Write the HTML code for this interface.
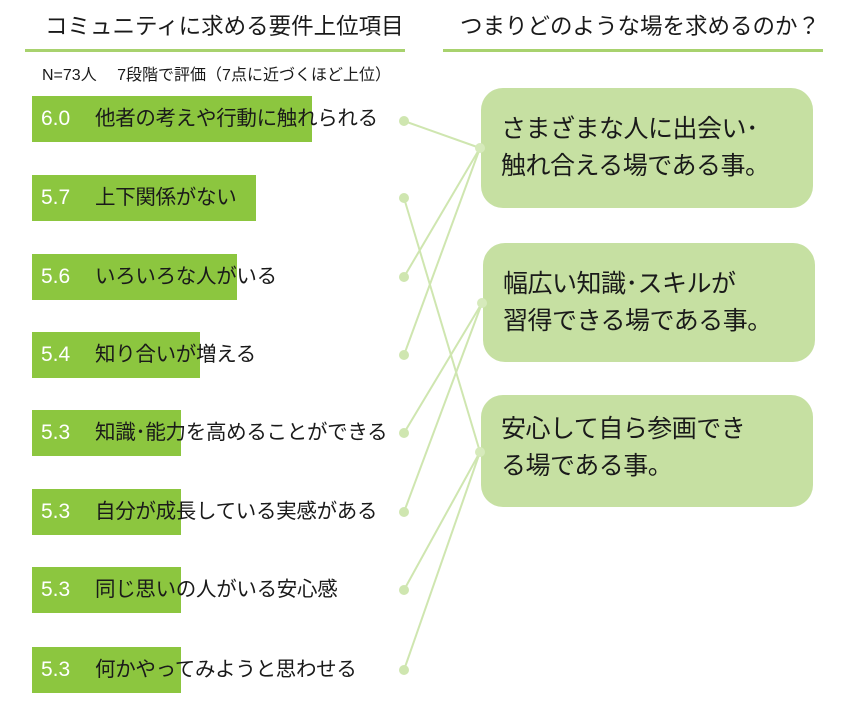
<!DOCTYPE html>
<html><head><meta charset="utf-8"><style>
body{margin:0;width:860px;height:704px;background:#fff;position:relative;overflow:hidden;font-family:"Liberation Sans","Noto Sans CJK JP",sans-serif;color:#1a1a1a}
.a{position:absolute;white-space:nowrap}
.bar{position:absolute;left:32px;height:46px;background:#8cc63f}
.num{position:absolute;left:41px;color:#fff;font-size:21px;line-height:46px}
.lbl{position:absolute;left:95px;font-size:20.5px;line-height:46px;letter-spacing:-0.3px}
.box{position:absolute;background:#c6e0a2;border-radius:22px;font-size:25px;line-height:37px;padding-left:20px;box-sizing:border-box;letter-spacing:-0.5px}
</style></head><body>
<div class="a" style="left:45px;top:9px;font-size:22.5px">コミュニティに求める要件上位項目</div>
<div class="a" style="left:25px;top:49px;width:380px;height:3px;background:#a8d26e"></div>
<div class="a" style="left:460px;top:9px;font-size:22.5px">つまりどのような場を求めるのか？</div>
<div class="a" style="left:443px;top:49px;width:380px;height:3px;background:#a8d26e"></div>
<div class="a" style="left:42px;top:61px;font-size:16px">N=73人　 7段階で評価（7点に近づくほど上位）</div>

<svg class="a" style="left:0;top:0" width="860" height="704">
<g stroke="#cfe6b0" stroke-width="2" fill="none">
<line x1="404" y1="121" x2="480" y2="148"/>
<line x1="404" y1="277" x2="480" y2="148"/>
<line x1="404" y1="355" x2="480" y2="148"/>
<line x1="404" y1="198" x2="480" y2="452"/>
<line x1="404" y1="433" x2="482" y2="303"/>
<line x1="404" y1="512" x2="482" y2="303"/>
<line x1="404" y1="590" x2="480" y2="452"/>
<line x1="404" y1="670" x2="480" y2="452"/>
</g>
<g fill="#cfe6b0">
<circle cx="404" cy="121" r="5"/><circle cx="404" cy="198" r="5"/><circle cx="404" cy="277" r="5"/><circle cx="404" cy="355" r="5"/>
<circle cx="404" cy="433" r="5"/><circle cx="404" cy="512" r="5"/><circle cx="404" cy="590" r="5"/><circle cx="404" cy="670" r="5"/>
</g>
</svg>

<div class="bar" style="top:96px;width:280px"></div><div class="num" style="top:96px">6.0</div><div class="lbl" style="top:96px">他者の考えや行動に触れられる</div>
<div class="bar" style="top:175px;width:224px"></div><div class="num" style="top:175px">5.7</div><div class="lbl" style="top:175px">上下関係がない</div>
<div class="bar" style="top:254px;width:205px"></div><div class="num" style="top:254px">5.6</div><div class="lbl" style="top:254px">いろいろな人がいる</div>
<div class="bar" style="top:332px;width:168px"></div><div class="num" style="top:332px">5.4</div><div class="lbl" style="top:332px">知り合いが増える</div>
<div class="bar" style="top:410px;width:149px"></div><div class="num" style="top:410px">5.3</div><div class="lbl" style="top:410px">知識･能力を高めることができる</div>
<div class="bar" style="top:489px;width:149px"></div><div class="num" style="top:489px">5.3</div><div class="lbl" style="top:489px">自分が成長している実感がある</div>
<div class="bar" style="top:567px;width:149px"></div><div class="num" style="top:567px">5.3</div><div class="lbl" style="top:567px">同じ思いの人がいる安心感</div>
<div class="bar" style="top:647px;width:149px"></div><div class="num" style="top:647px">5.3</div><div class="lbl" style="top:647px">何かやってみようと思わせる</div>

<div class="box" style="left:481px;top:88px;width:332px;height:120px;padding-top:23px">さまざまな人に出会い･<br>触れ合える場である事。</div>
<div class="box" style="left:483px;top:243px;width:332px;height:119px;padding-top:23px">幅広い知識･スキルが<br>習得できる場である事。</div>
<div class="box" style="left:481px;top:395px;width:332px;height:112px;padding-top:16px">安心して自ら参画でき<br>る場である事。</div>
<svg class="a" style="left:0;top:0" width="860" height="704"><g fill="#d6eabb"><circle cx="480" cy="148" r="5"/><circle cx="482" cy="303" r="5"/><circle cx="480" cy="452" r="5"/></g></svg>
</body></html>
